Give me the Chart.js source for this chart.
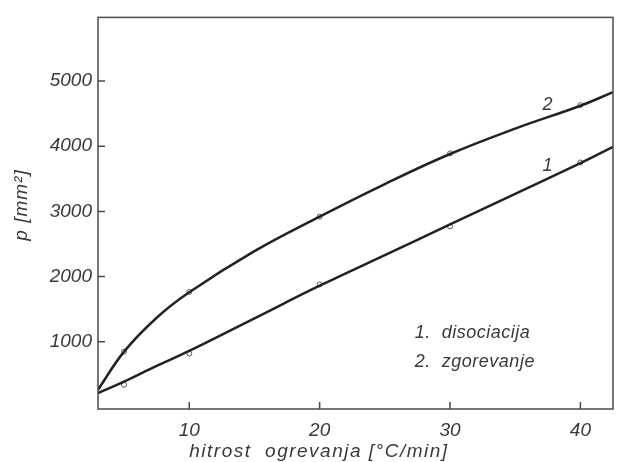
<!DOCTYPE html>
<html>
<head>
<meta charset="utf-8">
<script src="https://cdn.jsdelivr.net/npm/chart.js@4"></script>
<style>
  html, body { margin: 0; padding: 0; background: #fff; }
  #wrap { width: 618px; height: 462px; position: relative; }
</style>
</head>
<body>
<div id="wrap"><canvas id="chart"></canvas></div>
<script>
// smooth curves (x = heating rate, y = p)
const rateCurve = [3, 5, 7.5, 10, 15, 20, 25, 30, 35, 40, 42.5];
const dissocCurve = [215, 390, 630, 860, 1360, 1860, 2330, 2800, 3270, 3740, 3990];
const combustCurve = [265, 850, 1370, 1760, 2390, 2920, 3420, 3880, 4270, 4620, 4830];

// measured points
const rateMarks = [5, 10, 20, 30, 40];
const dissocMarks = [340, 820, 1880, 2770, 3750];
const combustMarks = [850, 1765, 2920, 3890, 4630];

const xTicks = [10, 20, 30, 40];
const yTicks = [1000, 2000, 3000, 4000, 5000];

const ink = '#222';
const textInk = '#3a3a3a';
const FAMILY = '"Liberation Sans", Arial, sans-serif';

const pts = (xs, ys) => xs.map((x, i) => ({ x: x, y: ys[i] }));

// extra drawing: frame, inner ticks, labels
const annotate = {
    id: 'annotate',
    afterDraw(chart) {
        const { ctx, chartArea: a, scales: { x, y } } = chart;
        ctx.save();

        // frame
        ctx.strokeStyle = '#4a4a4a';
        ctx.lineWidth = 1.5;
        ctx.strokeRect(a.left, a.top, a.right - a.left, a.bottom - a.top);

        // inner tick marks
        ctx.beginPath();
        xTicks.forEach(v => {
            const px = x.getPixelForValue(v);
            ctx.moveTo(px, a.bottom);
            ctx.lineTo(px, a.bottom - 7);
        });
        yTicks.forEach(v => {
            const py = y.getPixelForValue(v);
            ctx.moveTo(a.left, py);
            ctx.lineTo(a.left + 7, py);
        });
        ctx.stroke();

        ctx.fillStyle = textInk;
        ctx.font = 'italic 18px ' + FAMILY;
        ctx.textBaseline = 'middle';
        ctx.textAlign = 'left';

        // curve numbers
        ctx.fillText('2', x.getPixelForValue(37.1), y.getPixelForValue(4630));
        ctx.fillText('1', x.getPixelForValue(37.1), y.getPixelForValue(3690));

        // legend text
        ctx.letterSpacing = '0.5px';
        ctx.fillText('1.  disociacija', x.getPixelForValue(27.3), y.getPixelForValue(1140));
        ctx.fillText('2.  zgorevanje', x.getPixelForValue(27.3), y.getPixelForValue(690));

        // x axis title
        ctx.font = 'italic 19px ' + FAMILY;
        ctx.letterSpacing = '1.5px';
        ctx.fillText('hitrost  ogrevanja [°C/min]', x.getPixelForValue(10), 452);

        // y axis title
        ctx.letterSpacing = '1px';
        ctx.translate(22, 205);
        ctx.rotate(-Math.PI / 2);
        ctx.textAlign = 'center';
        ctx.fillText('p [mm²]', 0, 0);

        ctx.restore();
    }
};

new Chart(document.getElementById('chart'), {
    type: 'line',
    data: {
        datasets: [
            {
                label: 'disociacija',
                data: pts(rateCurve, dissocCurve),
                borderColor: ink,
                borderWidth: 2.5,
                pointRadius: 0,
                tension: 0.4,
                fill: false
            },
            {
                label: 'zgorevanje',
                data: pts(rateCurve, combustCurve),
                borderColor: ink,
                borderWidth: 2.5,
                pointRadius: 0,
                tension: 0.4,
                fill: false
            },
            {
                label: 'disociacija (meritve)',
                data: pts(rateMarks, dissocMarks),
                showLine: false,
                pointRadius: 2.5,
                pointBorderWidth: 1,
                pointBorderColor: '#555',
                pointBackgroundColor: '#fff'
            },
            {
                label: 'zgorevanje (meritve)',
                data: pts(rateMarks, combustMarks),
                showLine: false,
                pointRadius: 2.5,
                pointBorderWidth: 1,
                pointBorderColor: '#555',
                pointBackgroundColor: '#fff'
            }
        ]
    },
    options: {
        responsive: true,
        maintainAspectRatio: false,
        animation: false,
        layout: { padding: { top: 13, right: 3, left: 0, bottom: 0 } },
        plugins: {
            legend: { display: false },
            tooltip: { enabled: false }
        },
        scales: {
            x: {
                type: 'linear',
                min: 3,
                max: 42.5,
                afterBuildTicks: s => { s.ticks = xTicks.map(v => ({ value: v })); },
                afterFit: s => { s.height = 53; },
                grid: { display: false, drawTicks: false },
                border: { display: false },
                ticks: {
                    padding: 10,
                    color: textInk,
                    font: { family: FAMILY, size: 19, style: 'italic' },
                    callback: v => String(v)
                }
            },
            y: {
                min: -30,
                max: 5975,
                afterBuildTicks: s => { s.ticks = yTicks.map(v => ({ value: v })); },
                afterFit: s => { s.width = 98; },
                grid: { display: false, drawTicks: false },
                border: { display: false },
                ticks: {
                    padding: 6,
                    color: textInk,
                    font: { family: FAMILY, size: 19, style: 'italic' },
                    callback: v => String(v)
                }
            }
        }
    },
    plugins: [annotate]
});
</script>
</body>
</html>
